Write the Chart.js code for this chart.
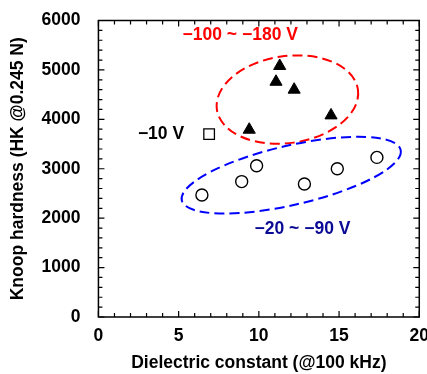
<!DOCTYPE html>
<html>
<head>
<meta charset="utf-8">
<script src="https://cdn.jsdelivr.net/npm/chart.js@4.4.1/dist/chart.umd.min.js"></script>
<style>
  html, body { margin: 0; padding: 0; background: #fff; overflow: hidden; width: 427px; height: 374px; }
  canvas { display: block; }
</style>
</head>
<body>
<canvas id="c" width="430" height="374"></canvas>
<script>
// ---- data ----
const lowBiasX  = [6.45, 8.93, 9.86, 12.84, 14.89, 17.36];   // −20 ~ −90 V (open circles)
const lowBiasY  = [2470, 2740, 3060, 2690, 3000, 3230];
const highBiasX = [9.4, 11.07, 11.3, 12.2, 14.5];            // −100 ~ −180 V (filled triangles)
const highBiasY = [3790, 4760, 5080, 4600, 4080];
const v10X = [6.9];                                           // −10 V (open square)
const v10Y = [3700];

const xTicks = [0, 5, 10, 15, 20];
const yTicks = [0, 1000, 2000, 3000, 4000, 5000, 6000];
const xMinorStep = 1;
const yMinorStep = 200;

const xTitle = 'Dielectric constant (@100 kHz)';
const yTitle = 'Knoop hardness (HK @0.245 N)';

// annotations (data coordinates)
const labels = [
  { text: '\u221210 V', x: 3.9, y: 3700, color: '#000000' },
  { text: '\u2212100 ~ \u2212180 V', x: 8.84, y: 5700, color: '#FF0000' },
  { text: '\u221220 ~ \u221290 V', x: 12.72, y: 1780, color: '#0A0A96' }
];
const ellipses = [
  { cx: 11.78, cy: 4400, rx: 4.44, ry: 880, rot: -8, color: '#FF0000' },
  { cx: 12.02, cy: 2870, rx: 7.0, ry: 600, rot: -13, color: '#0000FF' }
];

const toPts = (xs, ys) => xs.map((x, i) => ({ x: x, y: ys[i] }));
const FONT = '"Liberation Sans", Arial, Helvetica, sans-serif';
const FS = 17.5;

const framePlugin = {
  id: 'frame',
  beforeDatasetsDraw(chart) {
    const { ctx, scales: { x, y } } = chart;
    ctx.save();
    ctx.lineWidth = 2;
    ctx.setLineDash([10, 5]);
    ellipses.forEach(e => {
      const px = x.getPixelForValue(e.cx), py = y.getPixelForValue(e.cy);
      const rx = Math.abs(x.getPixelForValue(e.cx + e.rx) - px);
      const ry = Math.abs(y.getPixelForValue(e.cy + e.ry) - py);
      ctx.strokeStyle = e.color;
      ctx.beginPath();
      ctx.ellipse(px, py, rx, ry, e.rot * Math.PI / 180, 0, Math.PI * 2);
      ctx.stroke();
    });
    ctx.restore();
  },
  afterDraw(chart) {
    const { ctx, chartArea: a, scales: { x, y } } = chart;
    ctx.save();
    ctx.strokeStyle = '#000';
    ctx.lineWidth = 1.5;
    ctx.strokeRect(a.left, a.top, a.right - a.left, a.bottom - a.top);
    ctx.lineWidth = 1.2;
    ctx.beginPath();
    for (let v = x.min; v <= x.max + 1e-9; v += xMinorStep) {
      const p = x.getPixelForValue(v);
      const len = xTicks.includes(Math.round(v)) ? 6 : 4;
      ctx.moveTo(p, a.bottom); ctx.lineTo(p, a.bottom - len);
      ctx.moveTo(p, a.top); ctx.lineTo(p, a.top + len);
    }
    for (let v = y.min; v <= y.max + 1e-9; v += yMinorStep) {
      const p = y.getPixelForValue(v);
      const len = yTicks.includes(Math.round(v)) ? 6 : 4;
      ctx.moveTo(a.left, p); ctx.lineTo(a.left + len, p);
      ctx.moveTo(a.right, p); ctx.lineTo(a.right - len, p);
    }
    ctx.stroke();
    ctx.font = 'bold ' + FS + 'px ' + FONT;
    ctx.textAlign = 'center';
    ctx.textBaseline = 'middle';
    labels.forEach(l => {
      ctx.fillStyle = l.color;
      ctx.fillText(l.text, x.getPixelForValue(l.x), y.getPixelForValue(l.y));
    });
    ctx.restore();
  }
};

new Chart(document.getElementById('c'), {
  type: 'scatter',
  data: {
    datasets: [
      { label: '-20 ~ -90 V', data: toPts(lowBiasX, lowBiasY), pointStyle: 'circle', pointRadius: 6,
        backgroundColor: '#fff', borderColor: '#000', borderWidth: 1.4 },
      { label: '-100 ~ -180 V', data: toPts(highBiasX, highBiasY), pointStyle: 'triangle', pointRadius: 7,
        backgroundColor: '#000', borderColor: '#000', borderWidth: 1 },
      { label: '-10 V', data: toPts(v10X, v10Y), pointStyle: 'rect', pointRadius: 7.5,
        backgroundColor: '#fff', borderColor: '#000', borderWidth: 1.3 }
    ]
  },
  options: {
    responsive: false,
    animation: false,
    layout: { padding: { left: 7.5, top: 7, right: 0, bottom: 0 } },
    plugins: { legend: { display: false }, tooltip: { enabled: false } },
    scales: {
      x: {
        type: 'linear', min: 0, max: 20,
        afterBuildTicks: s => { s.ticks = xTicks.map(v => ({ value: v })); },
        grid: { display: false }, border: { display: false },
        ticks: { color: '#000', padding: 1, callback: v => String(v),
                 font: { family: FONT, size: FS, weight: 'bold' } },
        title: { display: true, text: xTitle, color: '#000', padding: { top: 5, bottom: 0 },
                 font: { family: FONT, size: FS, weight: 'bold' } }
      },
      y: {
        type: 'linear', min: 0, max: 6000,
        afterBuildTicks: s => { s.ticks = yTicks.map(v => ({ value: v })); },
        grid: { display: false }, border: { display: false },
        ticks: { color: '#000', padding: 10, callback: v => String(v),
                 font: { family: FONT, size: FS, weight: 'bold' } },
        title: { display: true, text: yTitle, color: '#000', padding: { top: 0, bottom: 3 },
                 font: { family: FONT, size: FS, weight: 'bold' } }
      }
    }
  },
  plugins: [framePlugin]
});
</script>
</body>
</html>
